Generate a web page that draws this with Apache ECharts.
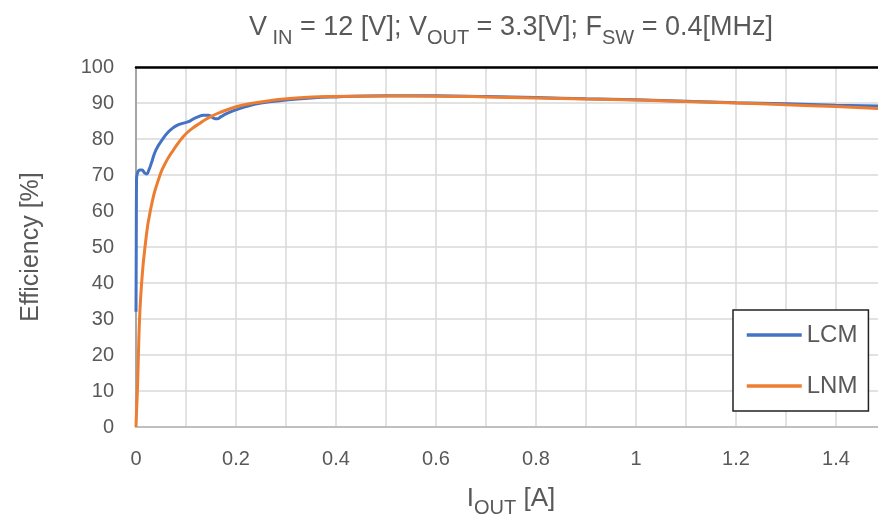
<!DOCTYPE html>
<html>
<head>
<meta charset="utf-8">
<script src="https://cdn.jsdelivr.net/npm/echarts@6/dist/echarts.min.js"></script>
<style>
html,body{margin:0;padding:0;background:#fff;}
#chart{width:878px;height:517px;}
</style>
</head>
<body>
<div id="chart"></div>
<script>
// ---- data ----
var lcmX = [0, 0.0005, 0.001, 0.003, 0.008, 0.012, 0.017, 0.021, 0.026, 0.031, 0.04, 0.055, 0.065, 0.075, 0.085, 0.095, 0.105, 0.115, 0.125, 0.135, 0.145, 0.155, 0.162, 0.17, 0.18, 0.2, 0.22, 0.25, 0.3, 0.35, 0.4, 0.5, 0.6, 0.7, 0.8, 0.9, 1.0, 1.1, 1.2, 1.3, 1.4, 1.5];
var lcmY = [32, 50, 68.5, 70.6, 71.4, 71.4, 70.6, 70.3, 71.5, 73.4, 77, 80.3, 82, 83.2, 84, 84.4, 84.8, 85.6, 86.2, 86.6, 86.6, 85.8, 85.6, 86.2, 87, 88.1, 89, 90, 90.8, 91.4, 91.7, 92.0, 92.0, 91.8, 91.5, 91.2, 90.9, 90.5, 90.1, 89.8, 89.4, 89.1];
var lnmX = [0, 0.001, 0.003, 0.005, 0.007, 0.011, 0.018, 0.029, 0.048, 0.063, 0.075, 0.09, 0.101, 0.115, 0.128, 0.14, 0.155, 0.17, 0.188, 0.21, 0.24, 0.27, 0.32, 0.39, 0.5, 0.6, 0.7, 0.8, 0.9, 1.0, 1.1, 1.2, 1.3, 1.4, 1.5];
var lnmY = [0, 4, 11, 21, 29.5, 39.5, 50, 60.3, 70, 74.4, 77, 79.9, 81.6, 83.2, 84.4, 85.5, 86.6, 87.5, 88.4, 89.3, 90.1, 90.7, 91.4, 91.8, 91.95, 91.9, 91.7, 91.4, 91.1, 90.8, 90.4, 90.0, 89.5, 89.0, 88.4];
var seriesNames = ['LCM', 'LNM'];
var xTickMax = 1.4;

function pairs(xs, ys) { return xs.map(function (x, i) { return [x, ys[i]]; }); }

var textColor = '#595959';
var ff = 'Liberation Sans, Arial, sans-serif';
var chart = echarts.init(document.getElementById('chart'));
chart.setOption({
  animation: false,
  backgroundColor: '#ffffff',
  textStyle: { fontFamily: ff },
  title: {
    left: 244, top: 4,
    text: '{n|V}{s| IN}{n| = 12 [V]; V}{s|OUT}{n| = 3.3[V]; F}{s|SW}{n| = 0.4[MHz]}',
    textStyle: {
      fontWeight: 'normal',
      rich: {
        n: { fontSize: 27, fontWeight: 'normal', color: textColor, fontFamily: ff, lineHeight: 32, verticalAlign: 'bottom' },
        s: { fontSize: 20, fontWeight: 'normal', color: textColor, fontFamily: ff, lineHeight: 32, verticalAlign: 'bottom', padding: [0, 0, -7, 0] }
      }
    }
  },
  grid: { left: 136, top: 67, width: 750, height: 360, containLabel: false, outerBoundsMode: 'none' },
  legend: {
    orient: 'vertical',
    left: 733, top: 310,
    padding: [13, 11, 13, 12],
    itemWidth: 55, itemHeight: 24, itemGap: 27,
    backgroundColor: '#ffffff',
    borderColor: '#222222', borderWidth: 1.5, borderRadius: 0,
    itemStyle: { opacity: 0 },
    lineStyle: { width: 3.5 },
    textStyle: { fontSize: 24, color: textColor, fontFamily: ff },
    data: seriesNames
  },
  xAxis: [{
    type: 'value', min: 0, max: 1.5, interval: 0.2,
    name: '{s|I}{t|OUT}{s| [A]}',
    nameLocation: 'middle', nameGap: 55,
    nameTextStyle: {
      rich: {
        s: { fontSize: 26, color: textColor, fontFamily: ff, lineHeight: 30, verticalAlign: 'bottom' },
        t: { fontSize: 20, color: textColor, fontFamily: ff, lineHeight: 30, verticalAlign: 'bottom', padding: [0, 0, -6, 0] }
      }
    },
    axisLine: { show: true, lineStyle: { color: '#bfbfbf', width: 2 } },
    axisTick: { show: false },
    axisLabel: {
      margin: 22, fontSize: 20, color: textColor,
      formatter: function (v) { return v > xTickMax + 0.01 ? '' : String(Math.round(v * 10) / 10); }
    },
    splitLine: { show: true, lineStyle: { color: '#d9d9d9', width: 1.5 } },
    minorTick: { show: false, splitNumber: 2 },
    minorSplitLine: { show: true, lineStyle: { color: '#d9d9d9', width: 1.5 } }
  }, {
    type: 'value', position: 'top', min: 0, max: 1.5,
    axisLine: { show: true, lineStyle: { color: '#000000', width: 2.5 } },
    axisTick: { show: false }, axisLabel: { show: false }, splitLine: { show: false }
  }],
  yAxis: {
    type: 'value', min: 0, max: 100, interval: 10,
    name: 'Efficiency [%]',
    nameLocation: 'middle', nameGap: 92,
    nameTextStyle: { fontSize: 25, color: textColor, fontFamily: ff },
    axisLine: { show: true, lineStyle: { color: '#a6a6a6', width: 2 } },
    axisTick: { show: false },
    axisLabel: { margin: 22, fontSize: 20, color: textColor },
    splitLine: { show: true, lineStyle: { color: '#d9d9d9', width: 1.5 } }
  },
  series: [{
    name: seriesNames[0], type: 'line', xAxisIndex: 0,
    data: pairs(lcmX, lcmY), symbol: 'none', smooth: 0.5,
    lineStyle: { color: '#4472C4', width: 3 }, itemStyle: { color: '#4472C4' }, z: 2
  }, {
    name: seriesNames[1], type: 'line', xAxisIndex: 0,
    data: pairs(lnmX, lnmY), symbol: 'none', smooth: 0.5,
    lineStyle: { color: '#ED7D31', width: 3 }, itemStyle: { color: '#ED7D31' }, z: 3
  }]
});
</script>
</body>
</html>
